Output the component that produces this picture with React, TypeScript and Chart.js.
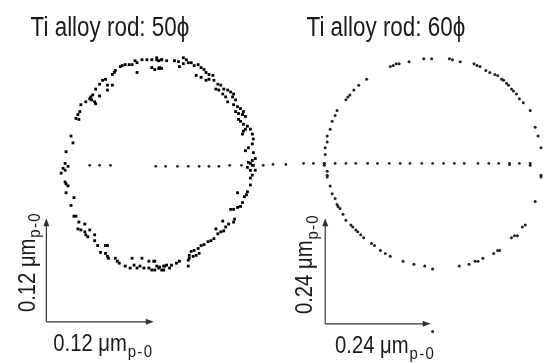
import React, { useEffect, useRef } from "react";
import { Chart, registerables } from "chart.js";

Chart.register(...registerables);

// Measured trace points (figure units, origin top-left)
const leftCircle: [number, number][] = [
  [140,57],[145,57],[150,57],[155,57],[160,57],[157,58],[150,65],[153,67],[158,65],[135,60],[133,58],[130,62],[127,62],[123,62],[120,63],[118,64],[135,70],[113,68],[112,70],[110,72],[103,77],[100,78],[105,83],[110,83],[105,88],[97,82],[93,87],[90,93],[88,95],[87,97],[89,98],[92,100],[93,102],[97,94],[83,100],[78,103],[77,110],[75,113],[73,117],[76,118],[68,135],[70,142],[63,151],
  [155,55],[160,57],[165,58],[157,66],[160,66],[173,58],[177,59],[182,55],[185,57],[187,60],[182,61],[178,64],[190,60],[193,63],[197,62],[200,65],[203,67],[205,70],[208,72],[212,73],[195,73],[200,75],[205,78],[208,77],[213,78],[217,82],[220,83],[223,87],[227,88],[230,90],[233,92],[215,87],[218,88],[222,92],[225,95],[227,100],[232,95],[235,98],[233,103],[237,105],[240,107],[243,110],[235,110],[238,112],[242,113],[245,115],[238,118],[240,120],[243,123],[247,125],[250,128],[252,133],[253,138],[243,130],[242,133],[252,143],[248,147],[245,150],[253,152],[248,162],[252,160],[255,158],[252,165],[245,128],[247,167],[255,170],
  [62,163],[65,166],[60,168],[62,170],[58,173],[62,182],[63,184],[65,186],[63,193],[71,198],[68,206],[71,217],[73,217],[76,223],[82,225],[75,230],[78,231],[82,233],[87,231],[83,236],[85,238],[92,236],[92,242],[95,247],[103,247],[105,247],[98,254],[103,255],[105,258],[106,260],[113,260],[115,263],[117,265],[130,260],[140,260],[147,263],[152,263],[153,263],[123,268],[128,270],[132,267],[135,270],[138,268],[142,270],[147,270],[150,272],[153,272],[157,270],[160,272],[163,268],
  [250,163],[253,165],[250,170],[252,175],[250,178],[250,185],[247,192],[246,195],[244,197],[237,193],[242,203],[240,207],[237,208],[233,210],[230,210],[234,220],[233,223],[228,225],[225,228],[223,232],[220,233],[217,235],[215,230],[222,222],[213,240],[210,242],[207,243],[203,246],[200,247],[197,250],[193,252],[190,253],[188,257],[198,255],[195,257],[192,258],[188,260],[187,262],[178,263],[175,265],[170,267],[165,267],[162,268],[158,269],[155,268],[187,268],[162,272],[168,270],
];

const rightCircle: [number, number][] = [
  [426,56],[434,56],[411,59],[401,61],[398,61],[395,63],[392,64],[368,77],[360,83],[355,88],[351,93],[349,95],[347,98],[338,109],[336,114],[333,120],[331,128],[328,135],[328,141],[326,147],[326,154],[325,163],
  [452,56],[455,57],[463,59],[477,61],[480,63],[483,64],[489,68],[493,70],[498,72],[501,73],[505,77],[507,78],[510,81],[512,83],[515,87],[517,89],[520,92],[523,97],[527,101],[534,109],[539,126],[542,135],[545,147],[513,164],[534,165],
  [325,165],[328,171],[328,175],[328,177],[331,186],[333,194],[336,199],[338,205],[339,207],[341,209],[344,215],[347,221],[352,226],[354,228],[357,231],[359,233],[362,236],[365,239],[373,245],[376,247],[382,252],[387,255],[392,258],[405,263],[416,266],[427,268],[435,271],[462,268],[472,266],[478,263],[481,263],[486,260],[497,255],[501,252],[503,252],[515,239],[518,237],[521,237],[526,228],[529,226],[539,202],[545,177],[545,175],[435,335],
];

const centerLineX = [87,97,108,154,164,176,187,198,208,218,229,241,263,273,286,304,314,325,336,347,357,369,379,391,402,412,424,435,446,457,467,481,492,502,513,523,534];
const centerLineY = [165,165,165,166,166,166,166,166,166,166,165,165,165,164,164,163,163,163,163,163,163,163,163,163,163,163,163,163,163,163,163,163,163,163,163,163,163];

const titles = ["Ti alloy rod: 50\u03d5", "Ti alloy rod: 60\u03d5"];
const scaleLabels = ["0.12 \u03bcm", "0.24 \u03bcm"];
const scaleSub = "p-0";

// Scale-bar arrows: [x0, y0, x1, y1]
const arrows: [number, number, number, number][] = [
  [43, 325, 43, 219],
  [43, 325, 152, 325],
  [326, 327, 326, 219],
  [326, 327, 433, 327],
];

const textPlugin = {
  id: "figText",
  afterDraw(chart: any) {
    const ctx = chart.ctx as CanvasRenderingContext2D;
    const xs = chart.scales.x;
    const ys = chart.scales.y;
    const px = (v: number) => xs.getPixelForValue(v);
    const py = (v: number) => ys.getPixelForValue(v);

    // arrows
    ctx.save();
    ctx.strokeStyle = "#333";
    ctx.fillStyle = "#333";
    ctx.lineWidth = 1.2;
    for (const [x0, y0, x1, y1] of arrows) {
      const ax = px(x0), ay = py(y0), bx = px(x1), by = py(y1);
      const ang = Math.atan2(by - ay, bx - ax);
      const L = 8, Wd = 3;
      ctx.beginPath();
      ctx.moveTo(ax, ay);
      ctx.lineTo(bx - Math.cos(ang) * L * 0.8, by - Math.sin(ang) * L * 0.8);
      ctx.stroke();
      ctx.beginPath();
      ctx.moveTo(bx, by);
      ctx.lineTo(bx - Math.cos(ang) * L - Math.sin(ang) * Wd, by - Math.sin(ang) * L + Math.cos(ang) * Wd);
      ctx.lineTo(bx - Math.cos(ang) * L + Math.sin(ang) * Wd, by - Math.sin(ang) * L - Math.cos(ang) * Wd);
      ctx.closePath();
      ctx.fill();
    }
    ctx.restore();

    const font = '"Liberation Sans", Arial, Helvetica, sans-serif';
    const draw = (main: string, sub: string | null, x: number, y: number, rot: number, size: number, sx: number) => {
      ctx.save();
      ctx.translate(px(x), py(y));
      ctx.rotate(rot);
      ctx.scale(sx, 1);
      ctx.fillStyle = "#1a1a1a";
      ctx.textBaseline = "alphabetic";
      ctx.textAlign = "left";
      ctx.font = `${size}px ${font}`;
      ctx.fillText(main, 0, 0);
      if (sub) {
        const w = ctx.measureText(main).width;
        ctx.font = `${Math.round(size * 0.76)}px ${font}`;
        (ctx as any).letterSpacing = "1.5px";
        ctx.fillText(sub, w + 1, size * 0.24);
      }
      ctx.restore();
    };
    draw(titles[0], null, 27, 33, 0, 27, 0.83);
    draw(titles[1], null, 307, 33, 0, 27, 0.83);
    draw(scaleLabels[0], scaleSub, 50, 355, 0, 23, 0.88);
    draw(scaleLabels[1], scaleSub, 336, 357, 0, 23, 0.88);
    draw(scaleLabels[0], scaleSub, 31, 315, -Math.PI / 2, 23, 0.88);
    draw(scaleLabels[1], scaleSub, 313, 317, -Math.PI / 2, 23, 0.88);
  },
};

export default function App() {
  const ref = useRef<HTMLCanvasElement | null>(null);
  useEffect(() => {
    if (!ref.current) return;
    const chart = new Chart(ref.current, {
      type: "scatter",
      data: {
        datasets: [
          {
            data: leftCircle.map(([x, y]) => ({ x, y })),
            pointStyle: "rect",
            pointRadius: 2.0,
            borderWidth: 0,
            backgroundColor: "#000",
          },
          {
            data: rightCircle.map(([x, y]) => ({ x, y })),
            pointStyle: "circle",
            pointRadius: 1.5,
            borderWidth: 0,
            backgroundColor: "#222",
          },
          {
            data: centerLineX.map((x, i) => ({ x, y: centerLineY[i] })),
            pointStyle: "circle",
            pointRadius: 1.4,
            borderWidth: 0,
            backgroundColor: "#222",
          },
        ],
      },
      options: {
        animation: false,
        responsive: false,
        devicePixelRatio: 1,
        events: [],
        layout: { padding: 0 },
        plugins: { legend: { display: false }, tooltip: { enabled: false } },
        scales: {
          x: { type: "linear", min: 0, max: 548, display: false },
          y: { type: "linear", min: 0, max: 363, reverse: true, display: false },
        },
      },
      plugins: [textPlugin],
    });
    return () => chart.destroy();
  }, []);
  return (
    <div style={{ position: "absolute", left: 0, top: 0, width: 548, height: 363, background: "#fff" }}>
      <canvas ref={ref} width={548} height={363} />
    </div>
  );
}
